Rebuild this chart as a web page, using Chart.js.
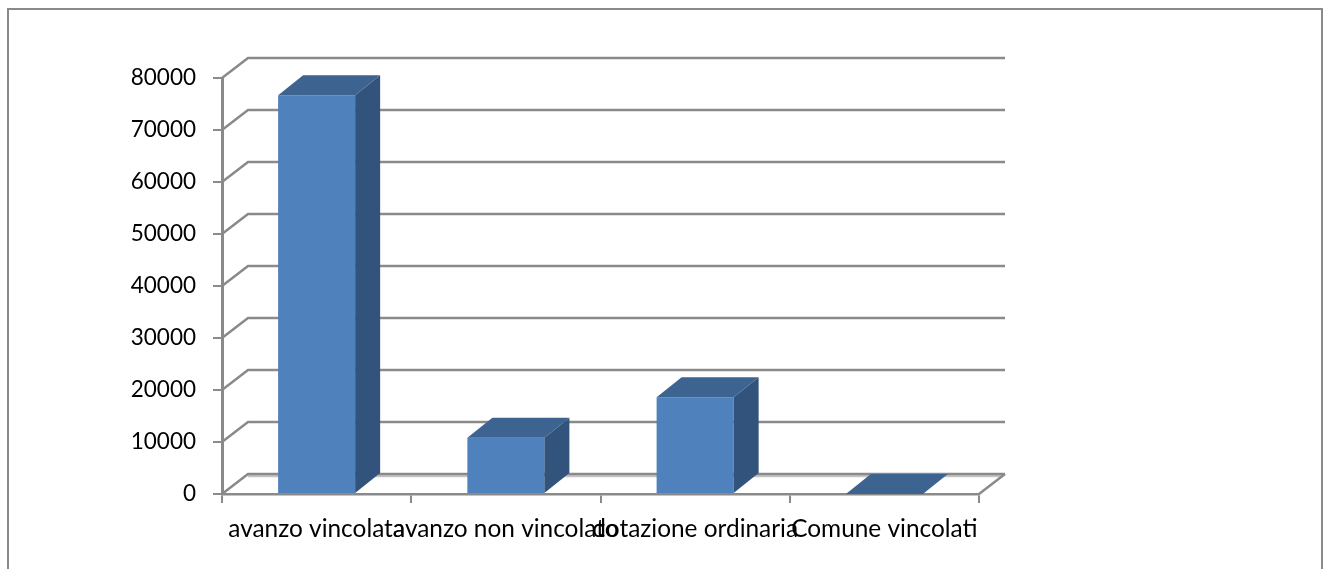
<!DOCTYPE html>
<html>
<head>
<meta charset="utf-8">
<title>Grafico</title>
<script src="https://cdn.jsdelivr.net/npm/chart.js@4"></script>
<style>
  html, body { margin: 0; padding: 0; background: #fff; overflow: hidden; }
  #wrap { position: relative; width: 1329px; height: 569px; overflow: hidden; }
  #frame {
    position: absolute; left: 7px; top: 8px; width: 1312px; height: 600px;
    border: 2px solid #8a8a8a; box-sizing: content-box;
  }
  canvas { position: absolute; left: 0; top: 0; }
</style>
</head>
<body>
<div id="wrap">
  <div id="frame"></div>
  <canvas id="chart" width="1329" height="569"></canvas>
</div>
<script>
const categories = ["avanzo vincolata", "avanzo non vincolato", "dotazione ordinaria", "Comune vincolati"];
const values = [76700, 10800, 18600, 0];
const yMin = 0;
const yMax = 80000;
const yStep = 10000;

const depthX = 26;
const depthY = 20;
const gridColor = "#8a8a8a";

function face(ctx, points, color) {
  ctx.fillStyle = color;
  ctx.beginPath();
  points.forEach(([x, y], i) => (i ? ctx.lineTo(x, y) : ctx.moveTo(x, y)));
  ctx.closePath();
  ctx.fill();
}

// walls and back gridlines behind the bars
const wallPlugin = {
  id: "walls",
  beforeDatasetsDraw(chart) {
    const { ctx, chartArea, scales } = chart;
    ctx.save();
    ctx.lineWidth = 2.5;
    for (let v = yMin; v <= yMax; v += yStep) {
      const y = scales.y.getPixelForValue(v);
      if (v === yMin) {
        // light edge under the floor line
        ctx.strokeStyle = "#c4c4c4";
        ctx.beginPath();
        ctx.moveTo(chartArea.left + depthX, y - depthY + 2);
        ctx.lineTo(chartArea.right + depthX - 2, y - depthY + 2);
        ctx.stroke();
      }
      ctx.strokeStyle = gridColor;
      ctx.beginPath();
      ctx.moveTo(chartArea.left, y);
      ctx.lineTo(chartArea.left + depthX, y - depthY);
      ctx.lineTo(chartArea.right + depthX, y - depthY);
      ctx.stroke();
    }
    ctx.beginPath();
    ctx.moveTo(chartArea.right, chartArea.bottom);
    ctx.lineTo(chartArea.right + depthX, chartArea.bottom - depthY);
    ctx.stroke();
    ctx.restore();
  },
  // top and side faces, taken from the bars the library laid out
  afterDatasetsDraw(chart) {
    const { ctx } = chart;
    const dx = depthX - 1;
    chart.getDatasetMeta(0).data.forEach((bar) => {
      const p = bar.getProps(["x", "y", "base", "width"], true);
      const left = p.x - p.width / 2;
      const right = p.x + p.width / 2;
      if (p.base - p.y > 0) {
        face(ctx, [[right, p.y], [right + dx, p.y - depthY], [right + dx, p.base - depthY], [right, p.base]], "#32547c");
      }
      face(ctx, [[left, p.y], [left + dx, p.y - depthY], [right + dx, p.y - depthY], [right, p.y]], "#3d6390");
    });
  },
};

new Chart(document.getElementById("chart"), {
  type: "bar",
  data: {
    labels: categories,
    datasets: [
      {
        data: values,
        backgroundColor: "#4f81bd",
        barPercentage: 1,
        categoryPercentage: 0.407,
      },
    ],
  },
  options: {
    responsive: false,
    animation: false,
    layout: { padding: { top: 78, right: 350, left: 0, bottom: 0 } },
    plugins: { legend: { display: false }, title: { display: false }, tooltip: { enabled: false } },
    scales: {
      x: {
        afterFit(scale) { scale.height = 75; },
        border: { color: gridColor, width: 2.5 },
        grid: { color: gridColor, lineWidth: 2, drawOnChartArea: false, tickLength: 9 },
        ticks: { autoSkip: false, maxRotation: 0, minRotation: 0, color: "#000", font: { family: "Lato", size: 24.4 }, padding: 12 },
      },
      y: {
        min: yMin,
        max: yMax,
        afterFit(scale) { scale.width = 222; },
        border: { color: gridColor, width: 3 },
        grid: { color: gridColor, lineWidth: 2, drawOnChartArea: false, tickLength: 9 },
        ticks: {
          stepSize: yStep,
          color: "#000",
          font: { family: "Lato", size: 22.5 },
          padding: 17,
          callback: (v) => String(v),
        },
      },
    },
  },
  plugins: [wallPlugin],
});
</script>
</body>
</html>
